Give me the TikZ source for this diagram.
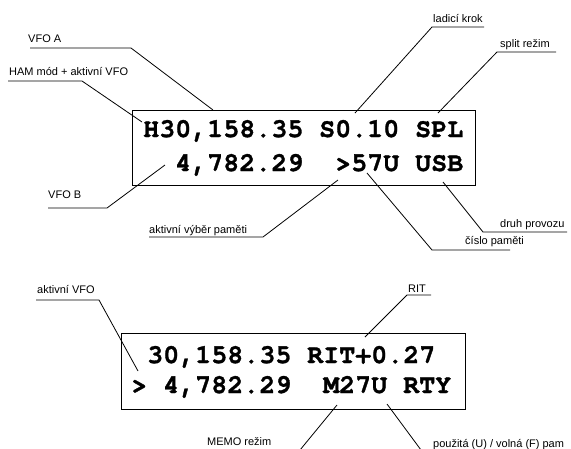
\documentclass[tikz,border=0pt]{standalone}
\usepackage{fontspec}
\setmainfont{Liberation Sans}
\newfontfamily\lcdfont{texgyrecursor}[Extension=.otf, UprightFont=*-regular, BoldFont=*-bold, BoldFeatures={FakeBold=1.2}]
\begin{document}
\begin{tikzpicture}[x=1pt,y=-1pt,
  lbl/.style={font=\fontsize{11pt}{13pt}\selectfont, inner sep=0pt, anchor=base west},
  lcd/.style={font=\lcdfont\bfseries\fontsize{26.7pt}{30pt}\selectfont, inner sep=0pt, anchor=base west},
  leader/.style={line width=0.8pt, black},
  panel/.style={line width=1pt, black}]
\useasboundingbox (0,0) rectangle (571,448);
\fill[white] (0,0) rectangle (571,448);

% ---------- top display ----------
\draw[panel] (132,110) rectangle (475,185);
\node[lcd] (t1a) at (143,137) {H30,158.35};
\node[lcd] (t1b) at (319,137) {S0.10};
\node[lcd] (t1c) at (415,137) {SPL};
\node[lcd] (t2a) at (175,171) {4,782.29};
\node[lcd] (t2b) at (335,171) {>57U};
\node[lcd] (t2c) at (415,171) {USB};

% labels (top)
\node[lbl] (vfoa) at (28,42) {VFO A};
\node[lbl] (ham) at (9,75) {HAM mód + aktivní VFO};
\node[lbl] (krok) at (433,22) {ladicí krok};
\node[lbl] (split) at (500,47) {split režim};
\node[lbl] (vfob) at (48,198) {VFO B};
\node[lbl] (vyber) at (149,233) {aktivní výběr paměti};
\node[lbl] (druh) at (500,227) {druh provozu};
\node[lbl] (cislo) at (465,244) {číslo paměti};

\coordinate (a1) at (30,48);   \coordinate (a2) at (131,48);  \coordinate (at) at (213,110);
\coordinate (h1) at (8,81);    \coordinate (h2) at (82,81);   \coordinate (ht) at (142,122);
\coordinate (k1) at (484,27);  \coordinate (k2) at (432,27);  \coordinate (kt) at (355,113);
\coordinate (s1) at (556,52);  \coordinate (s2) at (497,52);  \coordinate (st) at (438,113);
\coordinate (b1) at (48,208);  \coordinate (b2) at (107,208); \coordinate (bt) at (165,165);
\coordinate (v1) at (149,237); \coordinate (v2) at (263,237); \coordinate (vt) at (338,180);
\coordinate (d1) at (567,232); \coordinate (d2) at (483,232); \coordinate (dt) at (443,182);
\coordinate (c1) at (510,250); \coordinate (c2) at (432,250); \coordinate (ct) at (367,173);

\draw[leader] (a1) -- (a2) -- (at);
\draw[leader] (h1) -- (h2) -- (ht);
\draw[leader] (k1) -- (k2) -- (kt);
\draw[leader] (s1) -- (s2) -- (st);
\draw[leader] (b1) -- (b2) -- (bt);
\draw[leader] (v1) -- (v2) -- (vt);
\draw[leader] (d1) -- (d2) -- (dt);
\draw[leader] (c1) -- (c2) -- (ct);

% ---------- bottom display ----------
\draw[panel] (121,333) rectangle (465,409);
\node[lcd] (u1b) at (147,363) {30,158.35};
\node[lcd] (u1c) at (307,363) {RIT+0.27};
\node[lcd] (u2a) at (131,393) {>};
\node[lcd] (u2b) at (163,393) {4,782.29};
\node[lcd] (u2c) at (323,393) {M27U};
\node[lcd] (u2d) at (403,393) {RTY};

\node[lbl] (avfo) at (37,293) {aktivní VFO};
\node[lbl] (rit) at (408,292) {RIT};
\node[lbl] (memo) at (207,445) {MEMO režim};
\node[lbl] (pouz) at (433,447) {použitá (U) / volná (F) pam};

\coordinate (f1) at (36,300);  \coordinate (f2) at (99,300);  \coordinate (ft) at (138,371);
\coordinate (r1) at (431,295); \coordinate (r2) at (407,295); \coordinate (rt) at (365,337);
\coordinate (mt) at (337,405); \coordinate (m2) at (300,450);
\coordinate (pt) at (387,404); \coordinate (p2) at (421,450);

\draw[leader] (f1) -- (f2) -- (ft);
\draw[leader] (r1) -- (r2) -- (rt);
\draw[leader] (mt) -- (m2);
\draw[leader] (pt) -- (p2);
\end{tikzpicture}
\end{document}
